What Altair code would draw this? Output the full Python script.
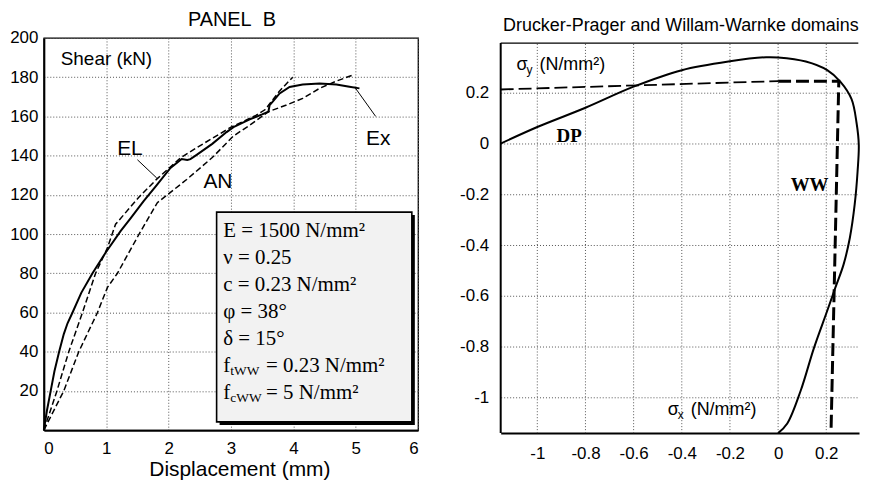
import altair as alt
import pandas as pd

SANS = "Liberation Sans"
SERIF = "Liberation Serif"

# ---------------- PANEL B : shear vs displacement ----------------
ex_disp = [0.0, 0.05, 0.11, 0.17, 0.245, 0.32, 0.38, 0.46, 0.6, 0.78, 1.0, 1.23, 1.39, 1.6, 1.81,
           2.03, 2.21, 2.3, 2.35, 2.45, 2.7, 2.93, 3.04, 3.3, 3.5, 3.6, 3.62, 3.67, 3.78,
           3.94, 4.15, 4.42, 4.69, 4.9, 5.06]
ex_shear = [0, 10, 20, 30, 40, 49, 54.5, 60, 70, 80, 91, 101.5, 108, 116.8, 125,
            133.7, 138.3, 137.8, 138.2, 140.4, 146, 152, 154.5, 158.5, 161, 162.4, 165.8, 167.5, 171.7,
            175, 176.3, 176.8, 176.3, 175.1, 174.3]

el_disp = [0.0, 0.21, 0.40, 0.62, 0.83, 1.02, 1.15, 1.53, 1.81, 2.19, 2.5, 3.0, 3.4, 3.55, 3.78, 3.99]
el_shear = [0, 20, 40, 60, 80, 93, 105, 119, 128, 138.8, 145, 154.5, 160.5, 163.5, 173, 180]

an_disp = [0.0, 0.32, 0.56, 0.86, 1.02, 1.18, 1.35, 1.51, 1.82, 2.29, 2.7, 3.04, 3.3, 3.6,
           3.89, 4.15, 4.42, 4.69, 4.98]
an_shear = [0, 20, 40, 60, 72.8, 80, 89.8, 99, 116, 127.8, 139, 150, 155.5, 162.4,
            165.8, 169.2, 174.3, 178, 181.4]

b_x_ticks = [0, 1, 2, 3, 4, 5, 6]
b_y_ticks = [20, 40, 60, 80, 100, 120, 140, 160, 180, 200]

curve_names = ["EL", "AN", "Ex"]
curve_name_x = [1.176, 2.558, 5.165]
curve_name_y = [140.1, 123.5, 145.2]

leader_x = [1.50, 5.32]
leader_y = [137.9, 160.0]
leader_x2 = [1.81, 4.98]
leader_y2 = [128.6, 175.1]

param_main = ["E = 1500 N/mm²", "ν = 0.25", "c = 0.23 N/mm²", "φ = 38°", "δ = 15°", "f", "f"]
param_sub = ["tWW", "cWW"]
param_rest = ["= 0.23 N/mm²", "= 5 N/mm²"]
param_x = 2.877
param_y = [98.48, 84.67, 70.86, 57.06, 43.25, 29.44, 15.63]

box_x = [2.77]
box_x2 = [5.90]
box_y = [111.2]
box_y2 = [4.2]

# left panel texts (title, axis names)
b_texts = ["PANEL\u00a0\u00a0B", "Displacement (mm)", "Shear (kN)"]
b_text_x = [3.016, 3.143, 0.271]
b_text_y = [206.1, -23.4, 186.3]
b_text_size = [20, 21, 19]
b_text_align = ["center", "center", "left"]

# ---------------- Drucker-Prager / Willam-Warnke domains ----------------
dom_sx = [-1.152, -0.995, -0.80, -0.60, -0.40, -0.20, -0.05, 0.0, 0.115, 0.204, 0.259, 0.305,
          0.326, 0.335, 0.330, 0.318, 0.298, 0.272, 0.238, 0.204, 0.149, 0.094, 0.038, 0.0]
dom_sy = [0.0, 0.067, 0.141, 0.224, 0.289, 0.324, 0.340, 0.339, 0.323, 0.289, 0.243, 0.175,
          0.080, -0.005, -0.11, -0.24, -0.371, -0.476, -0.567, -0.659, -0.805, -0.973, -1.103, -1.141]

thin_dash_sx = [-1.152, 0.0]
thin_dash_sy = [0.213, 0.246]
thick_dash_sx = [0.0, 0.252, 0.220]
thick_dash_sy = [0.245, 0.245, -1.125]

r_x_ticks = [-1, -0.8, -0.6, -0.4, -0.2, 0, 0.2]
r_y_ticks = [0.2, 0, -0.2, -0.4, -0.6, -0.8, -1]

R_XMIN, R_XMAX = -1.152, 0.336
R_YMIN, R_YMAX = -1.141, 0.416
R_YTOP = 0.396

r_title = "Drucker-Prager and Willam-Warnke domains"
r_title_x = -0.404
r_title_y = 0.442

# ======================= LEFT PANEL =======================
def xb():
    return alt.X("x:Q", scale=alt.Scale(domain=[0, 6], nice=False),
                 axis=alt.Axis(values=b_x_ticks, title=None, labelPadding=10, grid=True))

def yb():
    return alt.Y("y:Q", scale=alt.Scale(domain=[0, 200], nice=False),
                 axis=alt.Axis(values=b_y_ticks, title=None, labelPadding=6, grid=True))

df_ex = pd.DataFrame({"x": ex_disp, "y": ex_shear})
df_dash = pd.concat([
    pd.DataFrame({"x": el_disp, "y": el_shear, "s": "EL"}),
    pd.DataFrame({"x": an_disp, "y": an_shear, "s": "AN"}),
])
df_lab = pd.DataFrame({"x": curve_name_x, "y": curve_name_y, "t": curve_names})
df_lead = pd.DataFrame({"x": leader_x, "y": leader_y, "x2": leader_x2, "y2": leader_y2})
df_box = pd.DataFrame({"x": box_x, "x2": box_x2, "y": box_y, "y2": box_y2})
df_pm = pd.DataFrame({"x": param_x, "y": param_y, "t": param_main})
df_ps = pd.DataFrame({"x": param_x, "y": param_y[5:], "t": param_sub})
df_pr = pd.DataFrame({"x": param_x, "y": param_y[5:], "t": param_rest})
df_btx = pd.DataFrame({"x": b_text_x, "y": b_text_y, "t": b_texts})
# invisible corner that pins the top-left edge of the drawing
df_corner_tl = pd.DataFrame({"x": [-0.5585], "x2": [-0.55], "y": [214.2], "y2": [213.5]})

corner_tl = alt.Chart(df_corner_tl).mark_rect(opacity=0).encode(x=xb(), x2="x2:Q", y=yb(), y2="y2:Q")
shadow = alt.Chart(df_box).mark_rect(color="black", xOffset=3, x2Offset=3, yOffset=3, y2Offset=3).encode(
    x=xb(), x2="x2:Q", y=yb(), y2="y2:Q")
box = alt.Chart(df_box).mark_rect(fill="#f2f2f2", stroke="black", strokeWidth=1.6).encode(
    x=xb(), x2="x2:Q", y=yb(), y2="y2:Q")
ex_line = alt.Chart(df_ex).mark_line(color="black", strokeWidth=2).encode(x=xb(), y=yb())
dash_lines = alt.Chart(df_dash).mark_line(color="black", strokeWidth=1.5, strokeDash=[6, 3]).encode(
    x=xb(), y=yb(), detail="s:N")
leaders = alt.Chart(df_lead).mark_rule(color="black", strokeWidth=1).encode(
    x=xb(), y=yb(), x2="x2:Q", y2="y2:Q")
labels = alt.Chart(df_lab).mark_text(align="left", baseline="alphabetic", font=SANS, fontSize=21,
                                     color="black").encode(x=xb(), y=yb(), text="t:N")
btexts = alt.layer(*[
    alt.Chart(df_btx.iloc[[k]]).mark_text(align=b_text_align[k], baseline="alphabetic", font=SANS,
                                          fontSize=b_text_size[k], color="black").encode(
        x=xb(), y=yb(), text="t:N")
    for k in range(len(b_texts))
])
pm = alt.Chart(df_pm).mark_text(align="left", baseline="alphabetic", font=SERIF, fontSize=21,
                                color="black").encode(x=xb(), y=yb(), text="t:N")
ps = alt.Chart(df_ps).mark_text(align="left", baseline="alphabetic", font=SERIF, fontSize=13.5,
                                color="black", dx=7, dy=3).encode(x=xb(), y=yb(), text="t:N")
pr = alt.Chart(df_pr).mark_text(align="left", baseline="alphabetic", font=SERIF, fontSize=21,
                                color="black", dx=43).encode(x=xb(), y=yb(), text="t:N")

left = alt.layer(corner_tl, shadow, box, dash_lines, ex_line, leaders, labels, btexts, pm, ps, pr).properties(
    width=376, height=394,
)

# ======================= RIGHT PANEL =======================
def xr():
    return alt.X("x:Q", scale=alt.Scale(domain=[R_XMIN, R_XMAX], nice=False, zero=False),
                 axis=alt.Axis(values=r_x_ticks, labelExpr="'' + datum.value", title=None,
                               grid=False, labelPadding=13))

def yr():
    return alt.Y("y:Q", scale=alt.Scale(domain=[R_YMIN, R_YMAX], nice=False, zero=False),
                 axis=alt.Axis(values=r_y_ticks, labelExpr="'' + datum.value", title=None,
                               grid=True, domain=False, labelPadding=12))

df_vgrid = pd.DataFrame({"x": r_x_ticks, "y": R_YMIN, "y2": R_YTOP})
df_top = pd.DataFrame({"x": [R_XMIN], "x2": [R_XMAX - 0.003], "y": [R_YTOP]})
df_leftb = pd.DataFrame({"x": [R_XMIN], "y": [R_YMIN], "y2": [R_YTOP]})
df_dom = pd.DataFrame({"x": dom_sx, "y": dom_sy, "i": range(len(dom_sx))})
df_thin = pd.DataFrame({"x": thin_dash_sx, "y": thin_dash_sy, "i": range(len(thin_dash_sx))})
df_thick = pd.DataFrame({"x": thick_dash_sx, "y": thick_dash_sy, "i": range(len(thick_dash_sx))})

df_sig = pd.DataFrame({"x": [-1.086, -0.458], "y": [0.289, -1.0706], "t": ["σ", "σ"]})
df_sigsub = pd.DataFrame({"x": [-1.086, -0.458], "y": [0.289, -1.0706], "t": ["y", "x"]})
df_sigrest = pd.DataFrame({"x": [-1.086, -0.458], "y": [0.289, -1.0706], "t": ["(N/mm²)", "(N/mm²)"]})
df_dpww = pd.DataFrame({"x": [-0.92, 0.052], "y": [0.008, -0.188], "t": ["DP", "WW"]})
df_rtitle = pd.DataFrame({"x": [r_title_x], "y": [r_title_y], "t": [r_title]})
# invisible corner that pins the bottom-right edge of the drawing
df_corner_br = pd.DataFrame({"x": [R_XMAX - 0.01], "x2": [R_XMAX - 0.002], "y": [-1.30], "y2": [-1.3036]})

corner_br = alt.Chart(df_corner_br).mark_rect(opacity=0).encode(x=xr(), x2="x2:Q", y=yr(), y2="y2:Q")
vgrid = alt.Chart(df_vgrid).mark_rule(color="#555", strokeDash=[1, 2], strokeWidth=1).encode(
    x=xr(), y=yr(), y2="y2:Q")
topb = alt.Chart(df_top).mark_rule(color="black", strokeWidth=1.3).encode(x=xr(), x2="x2:Q", y=yr())
leftb = alt.Chart(df_leftb).mark_rule(color="black", strokeWidth=2).encode(x=xr(), y=yr(), y2="y2:Q")
dom = alt.Chart(df_dom).mark_line(color="black", strokeWidth=2, interpolate="catmull-rom").encode(
    x=xr(), y=yr(), order="i:Q")
thin = alt.Chart(df_thin).mark_line(color="black", strokeWidth=1.8, strokeDash=[13, 5]).encode(
    x=xr(), y=yr(), order="i:Q")
thick = alt.Chart(df_thick).mark_line(color="black", strokeWidth=3, strokeDash=[13, 5]).encode(
    x=xr(), y=yr(), order="i:Q")
sig = alt.Chart(df_sig).mark_text(align="left", baseline="alphabetic", font=SANS, fontSize=18,
                                  color="black").encode(x=xr(), y=yr(), text="t:N")
sigsub = alt.Chart(df_sigsub).mark_text(align="left", baseline="alphabetic", font=SANS, fontSize=12,
                                        color="black", dx=10, dy=4).encode(x=xr(), y=yr(), text="t:N")
sigrest = alt.Chart(df_sigrest).mark_text(align="left", baseline="alphabetic", font=SANS, fontSize=18,
                                          color="black", dx=23).encode(x=xr(), y=yr(), text="t:N")
dpww = alt.Chart(df_dpww).mark_text(align="left", baseline="alphabetic", font=SERIF, fontSize=19,
                                    fontWeight="bold", color="black").encode(x=xr(), y=yr(), text="t:N")
rtitle = alt.Chart(df_rtitle).mark_text(align="center", baseline="alphabetic", font=SANS, fontSize=18,
                                        color="black").encode(x=xr(), y=yr(), text="t:N")

right = alt.layer(corner_br, vgrid, topb, leftb, thin, thick, dom, sig, sigsub, sigrest, dpww, rtitle).properties(
    width=360, height=397,
    view=alt.ViewBackground(stroke="transparent"),
)

chart = alt.hconcat(left, right, spacing=83, bounds="flush").properties(
    padding={"left": 0, "top": 0, "right": 0, "bottom": 0},
    background="white",
).configure_axis(
    labelFont=SANS, titleFont=SANS, labelColor="black", titleColor="black",
    labelFontSize=17, titleFontWeight="normal", domainColor="black", domainWidth=2,
    ticks=False, gridColor="#555", gridDash=[1, 2], gridWidth=1,
).configure_view(
    stroke="black", strokeWidth=1.3,
)

chart.save("out.html", embed_options={"renderer": "svg", "actions": False})
